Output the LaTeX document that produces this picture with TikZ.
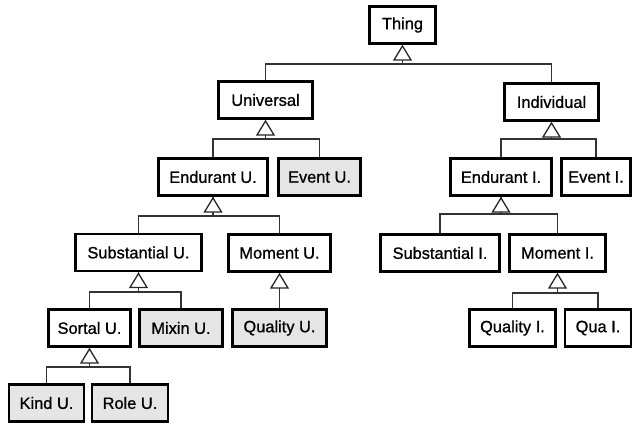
\documentclass[tikz,border=0pt]{standalone}
\usepackage{fontspec}
\setmainfont{Liberation Sans}
\newfontfamily\boxfont{Liberation Sans}[FakeBold=0.9]
\tikzset{
  box/.style={draw=black, line width=2.6pt, minimum height=37pt, inner sep=1pt,
    font=\boxfont\fontsize{16.4}{19}\selectfont, fill=white},
  gbox/.style={box, fill=black!10},
  conn/.style={draw=black!80, line width=1.2pt},
  tri/.style={draw=black!85, line width=1.3pt, fill=white, line join=miter},
}
\newcommand{\gentri}[1]{\draw[tri] ([yshift=-1.2pt]#1.south) -- ++(-8.5,14) -- ++(17,0) -- cycle;}
\begin{document}
\begin{tikzpicture}[x=1pt,y=-1pt]
\useasboundingbox (0,0) rectangle (634,423);
% nodes
\node[box, minimum width=66pt] (thing) at (402.5,25) {Thing};
\node[box, minimum width=94pt] (univ) at (265.5,100) {Universal};
\node[box, minimum width=94pt] (indiv) at (551.5,102) {Individual};
\node[box, minimum width=109pt] (endu) at (213,177) {Endurant U.};
\node[gbox, minimum width=82pt] (evu) at (319.5,177) {Event U.};
\node[box, minimum width=101pt] (endi) at (501,177) {Endurant I.};
\node[box, minimum width=69pt] (evi) at (596,177) {Event I.};
\node[box, minimum width=126pt] (subu) at (138.5,252.5) {Substantial U.};
\node[box, minimum width=102pt] (momu) at (279.5,253) {Moment U.};
\node[box, minimum width=119pt] (subi) at (440,253) {Substantial I.};
\node[box, minimum width=96pt] (momi) at (557.5,253) {Moment I.};
\node[box, minimum width=82pt] (sortu) at (89.5,328) {Sortal U.};
\node[gbox, minimum width=83pt] (mixu) at (181,328) {Mixin U.};
\node[gbox, minimum width=94pt] (qualu) at (279.5,328) {Quality U.};
\node[box, minimum width=86pt] (quali) at (512.5,328) {Quality I.};
\node[box, minimum width=66pt] (quai) at (598,328) {Qua I.};
\node[gbox, minimum width=75pt] (kindu) at (46.5,403) {Kind U.};
\node[gbox, minimum width=76pt] (roleu) at (130,403) {Role U.};
% junctions
\coordinate (jthing) at (thing.south |- 0,64);
\coordinate (juniv) at (univ.south |- 0,139);
\coordinate (jendu) at (endu.south |- 0,216);
\coordinate (jsubu) at (subu.south |- 0,292);
\coordinate (jsortu) at (sortu.south |- 0,367);
\coordinate (jindiv) at (indiv.south |- 0,139);
\coordinate (jendi) at (endi.south |- 0,214);
\coordinate (jmomi) at (momi.south |- 0,293);
% connectors
\draw[conn] (univ.north) |- (jthing) -| (indiv.north);
\draw[conn] (jthing) -- (thing.south);
\draw[conn] (endu.north) |- (juniv) -| (evu.north);
\draw[conn] (juniv) -- (univ.south);
\draw[conn] (subu.north) |- (jendu) -| (momu.north);
\draw[conn] (jendu) -- (endu.south);
\draw[conn] (sortu.north) |- (jsubu) -| (mixu.north);
\draw[conn] (jsubu) -- (subu.south);
\draw[conn] (kindu.north) |- (jsortu) -| (roleu.north);
\draw[conn] (jsortu) -- (sortu.south);
\draw[conn] (qualu.north) -- (momu.south);
\draw[conn] (endi.north) |- (jindiv) -| (evi.north);
\draw[conn] (jindiv) -- (indiv.south);
\draw[conn] (subi.north) |- (jendi) -| (momi.north);
\draw[conn] (jendi) -- (endi.south);
\draw[conn] (quali.north) |- (jmomi) -| (quai.north);
\draw[conn] (jmomi) -- (momi.south);
% generalization triangles
\gentri{thing}
\gentri{univ}
\gentri{endu}
\gentri{subu}
\gentri{sortu}
\gentri{momu}
\gentri{indiv}
\gentri{endi}
\gentri{momi}
\end{tikzpicture}
\end{document}
